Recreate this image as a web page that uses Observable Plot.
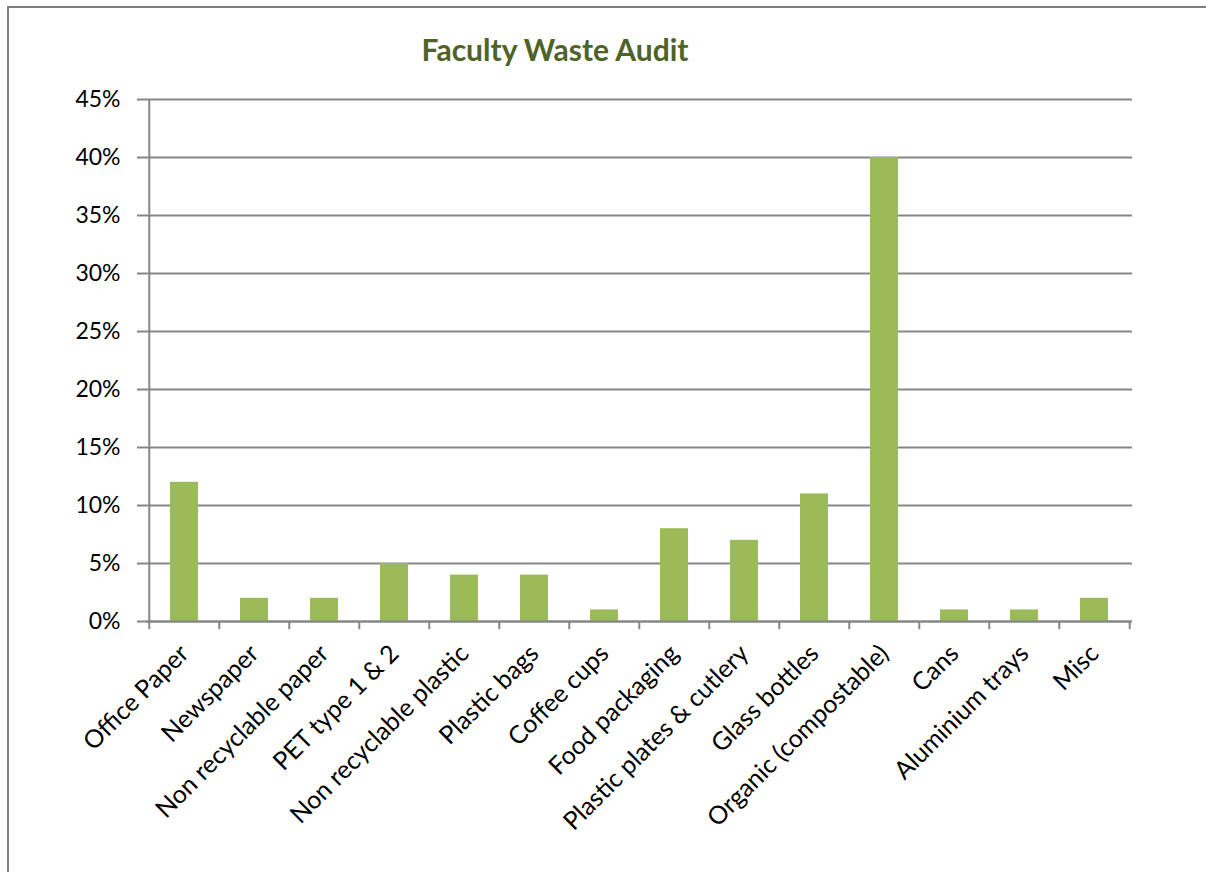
<!DOCTYPE html>
<html>
<head>
<meta charset="utf-8">
<script src="https://cdn.jsdelivr.net/npm/d3@7"></script>
<script src="https://cdn.jsdelivr.net/npm/@observablehq/plot@0.6"></script>
<style>
  html, body { margin: 0; padding: 0; background: #fff; }
  #wrap { position: relative; width: 1206px; height: 872px; overflow: hidden; font-family: Lato, "Open Sans", sans-serif; }
  #border { position: absolute; left: 7px; top: 6px; width: 1300px; height: 1000px; border-left: 2px solid #7f7f7f; border-top: 2px solid #7f7f7f; box-sizing: border-box; pointer-events: none; }
  #title { position: absolute; left: 0; width: 1110px; top: 31px; text-align: center; font-weight: bold; font-size: 30px; color: #4F6228; }
  #chart { position: absolute; left: 0; top: 0; }
</style>
</head>
<body>
<div id="wrap">
  <div id="chart"></div>
  <div id="border"></div>
  <div id="title">Faculty Waste Audit</div>
</div>
<script>
const categories = ["Office Paper", "Newspaper", "Non recyclable paper", "PET type 1 & 2", "Non recyclable plastic", "Plastic bags", "Coffee cups", "Food packaging", "Plastic plates & cutlery", "Glass bottles", "Organic (compostable)", "Cans", "Aluminium trays", "Misc"];
const shares = [12, 2, 2, 5, 4, 4, 1, 8, 7, 11, 40, 1, 1, 2];
const yTicks = [0, 5, 10, 15, 20, 25, 30, 35, 40, 45];

const data = categories.map((c, i) => ({category: c, share: shares[i]}));

const width = 1206, height = 872;
const marginLeft = 146, marginRight = 74, marginTop = 99, marginBottom = 251;
const step = (width - marginLeft - marginRight) / categories.length;
const grid = "#868686";

const chart = Plot.plot({
  width, height, marginLeft, marginRight, marginTop, marginBottom,
  style: {fontFamily: "Lato, 'Open Sans', sans-serif", fontSize: "23px", color: "#000", background: "#fff"},
  x: {domain: categories, padding: 0.6, paddingOuter: 0.3, label: null},
  y: {domain: [0, 45], label: null},
  marks: [
    Plot.ruleY(yTicks, {stroke: grid, strokeWidth: 2}),
    Plot.axisY({ticks: yTicks, tickFormat: d => d + "%", tickSize: 9, stroke: grid, strokeWidth: 2, strokeOpacity: 1, fill: "#000", tickPadding: 17, fontSize: 23, label: null}),
    Plot.barY(data, {x: "category", y: "share", fill: "#9BBB59"}),
    Plot.ruleX([categories[0]], {x: d => d, y1: 0, y2: 45, dx: -step / 2, stroke: grid, strokeWidth: 2}),
    Plot.ruleX(categories, {x: d => d, y1: 0, y2: -0.7, dx: -step / 2, stroke: grid, strokeWidth: 2}),
    Plot.ruleX([categories[categories.length - 1]], {x: d => d, y1: 0, y2: -0.7, dx: step / 2, stroke: grid, strokeWidth: 2}),
    Plot.ruleY([0], {stroke: grid, strokeWidth: 2}),
    Plot.axisX({tickSize: 0, tickRotate: -45, tickPadding: 28, dx: 0, fontSize: 25, fill: "#000", label: null})
  ]
});
document.getElementById("chart").appendChild(chart);
</script>
</body>
</html>
